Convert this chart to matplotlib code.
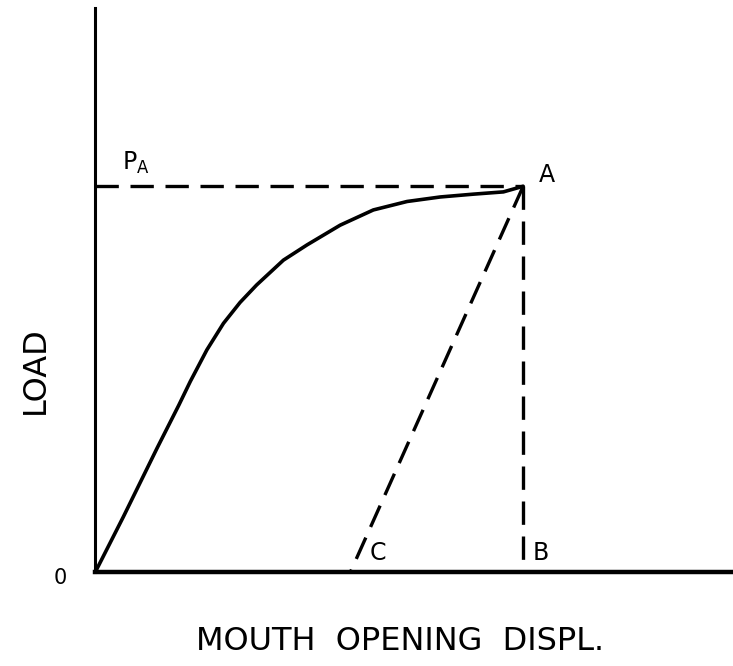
import matplotlib
matplotlib.use("Agg")
import matplotlib.pyplot as plt

plt.rcParams['font.family'] = 'DejaVu Sans'
plt.rcParams['mathtext.default'] = 'regular'

# load vs mouth opening displacement (arbitrary units)
curve_x = [0.0, 0.44, 0.97, 1.31, 1.49, 1.75, 2.01, 2.27, 2.53, 2.95,
           3.32, 3.84, 4.36, 4.89, 5.41, 5.93, 6.40, 6.71]
curve_y = [0.0, 0.98, 2.20, 2.96, 3.38, 3.94, 4.41, 4.78, 5.09, 5.53,
           5.80, 6.15, 6.42, 6.57, 6.65, 6.70, 6.74, 6.84]

point_a = (6.71, 6.84)
point_b = (6.71, 0.0)
point_c = (4.0, 0.0)
p_a = point_a[1]

W, H = 733, 666
fig = plt.figure(figsize=(W / 100, H / 100), dpi=100)
ax = fig.add_axes([0.130, 0.141, 0.870, 0.847])

ax.plot(curve_x, curve_y, color='black', lw=2.6, solid_capstyle='round',
        solid_joinstyle='round')

dash = dict(color='black', lw=2.4, dashes=(7, 3.5))
ax.plot([0, point_a[0]], [p_a, p_a], **dash)
ax.plot([point_a[0], point_b[0]], [point_a[1], point_b[1]], **dash)
ax.plot([point_a[0], point_c[0]], [point_a[1], point_c[1]], **dash)

ax.set_xlim(0, 10)
ax.set_ylim(0, 10)
for side in ('top', 'right'):
    ax.spines[side].set_visible(False)
ax.spines['left'].set_linewidth(2.2)
ax.spines['bottom'].set_linewidth(3.2)
ax.set_xticks([])
ax.set_yticks([])

ax.text(point_a[0] + 0.25, point_a[1] + 0.2, 'A', fontsize=17, va='center', ha='left')
ax.text(point_b[0] + 0.15, 0.12, 'B', fontsize=17, va='bottom', ha='left')
ax.text(point_c[0] + 0.3, 0.12, 'C', fontsize=17, va='bottom', ha='left')
ax.text(0.42, p_a + 0.18, '$P_A$', fontsize=17, va='bottom', ha='left')
ax.text(-0.55, -0.1, '0', fontsize=15, va='center', ha='center')

# axis titles placed in figure pixels
fig.text(35 / W, 1 - 370 / H, 'LOAD', fontsize=23, rotation=90,
         ha='center', va='center')
fig.text(400 / W, 1 - 642 / H, 'MOUTH  OPENING  DISPL.', fontsize=23,
         ha='center', va='center')

fig.savefig('out.png', dpi=100)
